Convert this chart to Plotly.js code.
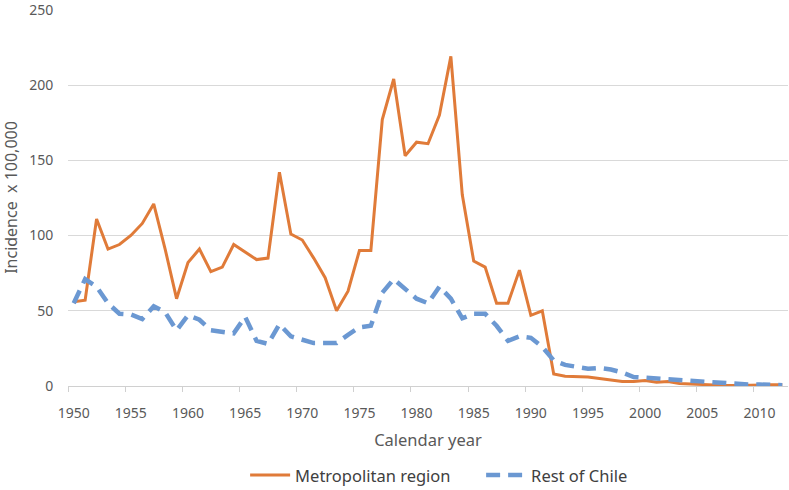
<!DOCTYPE html>
<html>
<head>
<meta charset="utf-8">
<script src="https://cdn.plot.ly/plotly-3.0.1.min.js"></script>
<style>html,body{margin:0;padding:0;background:#fff}#chart{width:789px;height:490px}</style>
</head>
<body>
<div id="chart"></div>
<script>
const years = [];
for (let y = 1950; y <= 2012; y++) years.push(y);

const metropolitan = [
  56, 57, 111, 91, 94, 100, 108, 121, 91, 58,
  82, 91, 76, 79, 94, 89, 84, 85, 142, 101,
  97, 85, 72, 50, 63, 90, 90, 177, 204, 153,
  162, 161, 180, 219, 127, 83, 79, 55, 55, 77,
  47, 50, 8, 6.5, 6.3, 6, 5, 4, 3, 3,
  3.7, 2.5, 3, 1.7, 1.3, 1.2, 0.7, 0.3, 0.3, 0.6,
  0.8, 0.8, 0.8
];
const restOfChile = [
  55, 71, 66, 55, 48, 47.5, 44.5, 53, 49, 37,
  47, 44, 37, 36, 35, 46, 30, 28, 41, 33,
  31, 28.5, 28.5, 28.5, 34, 39, 40, 62, 71, 64,
  58, 55, 66, 58, 45, 48, 48, 40, 30, 33,
  32, 26, 17, 14, 12.5, 11.5, 12, 11, 9, 6,
  5.5, 5, 4.5, 4, 3.5, 2.7, 2.2, 1.6, 1.1, 1,
  1, 0.6, 0.5
];
const xTickVals = [1950, 1955, 1960, 1965, 1970, 1975, 1980, 1985, 1990, 1995, 2000, 2005, 2010];
const xTickText = xTickVals.map(String);
const yTickVals = [0, 50, 100, 150, 200, 250];

const traces = [
  {
    x: years, y: metropolitan, type: 'scatter', mode: 'lines',
    name: 'Metropolitan region',
    line: {color: '#E07B39', width: 3}
  },
  {
    x: years, y: restOfChile, type: 'scatter', mode: 'lines',
    name: 'Rest of Chile',
    line: {color: '#6B98D2', width: 4.5, dash: '14px,8px'}
  }
];

const layout = {
  width: 789, height: 490,
  margin: {l: 68, r: 1, t: 9, b: 104, autoexpand: false},
  paper_bgcolor: '#fff', plot_bgcolor: '#fff',
  font: {family: '"Noto Sans", "Open Sans", sans-serif', color: '#595959', size: 14},
  showlegend: true,
  legend: {
    orientation: 'h', x: 0.246, xanchor: 'left', y: -0.237, yanchor: 'middle',
    font: {size: 16.5, color: '#404040'}, itemwidth: 40, tracegroupgap: 0,
    entrywidth: 181, entrywidthmode: 'pixels'
  },
  xaxis: {
    range: [1949.5, 2012.5],
    tickmode: 'array', tickvals: xTickVals, ticktext: xTickText,
    ticks: 'outside', ticklen: 14, tickcolor: 'rgba(0,0,0,0)',
    minor: {ticks: 'outside', tick0: 1949.5, dtick: 5, ticklen: 5, tickcolor: '#d0d0d0', showgrid: false},
    showgrid: false, zeroline: false,
    showline: true, linecolor: '#d0d0d0', linewidth: 1,
    tickfont: {size: 14, color: '#595959'},
    title: {text: 'Calendar year', font: {size: 16.5, color: '#595959'}, standoff: 13}
  },
  yaxis: {
    range: [0, 250.5],
    tickmode: 'array', tickvals: yTickVals,
    ticks: 'outside', ticklen: 11, tickcolor: 'rgba(0,0,0,0)',
    ticklabeloverflow: 'allow',
    showgrid: true, gridcolor: '#d9d9d9', gridwidth: 1,
    zeroline: false, showline: false,
    tickfont: {size: 14, color: '#595959'},
    title: {text: 'Incidence  x 100,000', font: {size: 16, color: '#595959'}, standoff: 8}
  }
};

Plotly.newPlot('chart', traces, layout, {displayModeBar: false, staticPlot: true});
</script>
</body>
</html>
